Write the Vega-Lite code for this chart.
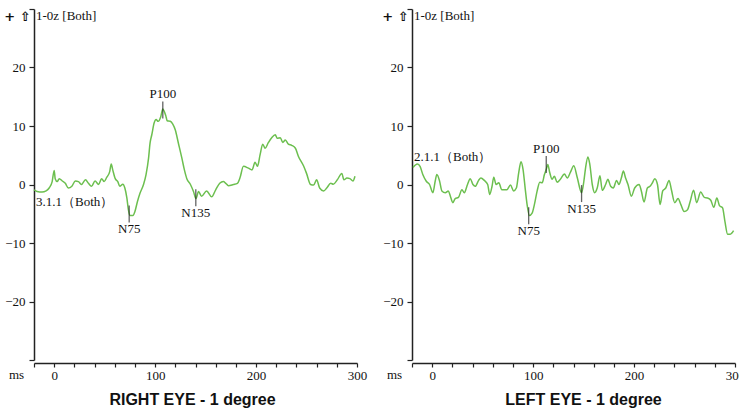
{
  "$schema": "https://vega.github.io/schema/vega-lite/v6.json",
  "background": "white",
  "padding": {"left": 3, "top": 8, "right": 0, "bottom": 0},
  "bounds": "flush",
  "spacing": 55,
  "datasets": {
    "wave": [
      {"eye":"R","ms":-20,"uv":-0.9},{"eye":"R","ms":-17,"uv":-1.2},{"eye":"R","ms":-12,"uv":-1.3},{"eye":"R","ms":-8,"uv":-1.1},{"eye":"R","ms":-5,"uv":-0.6},{"eye":"R","ms":-2,"uv":0.5},{"eye":"R","ms":0,"uv":2.4},{"eye":"R","ms":1,"uv":1.0},{"eye":"R","ms":3,"uv":0.5},{"eye":"R","ms":5,"uv":1.0},{"eye":"R","ms":8,"uv":0.6},{"eye":"R","ms":11,"uv":0.2},{"eye":"R","ms":14,"uv":-0.6},{"eye":"R","ms":17.5,"uv":-0.3},{"eye":"R","ms":21,"uv":0.6},{"eye":"R","ms":24,"uv":0.5},{"eye":"R","ms":27,"uv":0},{"eye":"R","ms":31,"uv":0.8},{"eye":"R","ms":34,"uv":0.2},{"eye":"R","ms":37,"uv":-0.3},{"eye":"R","ms":40.5,"uv":0.6},{"eye":"R","ms":44,"uv":0},{"eye":"R","ms":47,"uv":1.0},{"eye":"R","ms":49.5,"uv":0.5},{"eye":"R","ms":52,"uv":1.2},{"eye":"R","ms":55,"uv":2.2},{"eye":"R","ms":56.5,"uv":3.5},{"eye":"R","ms":58,"uv":2.5},{"eye":"R","ms":60.5,"uv":1.0},{"eye":"R","ms":63,"uv":0.5},{"eye":"R","ms":65,"uv":-0.3},{"eye":"R","ms":68,"uv":0.05},{"eye":"R","ms":70,"uv":-0.6},{"eye":"R","ms":72,"uv":-2.3},{"eye":"R","ms":73.5,"uv":-4.3},{"eye":"R","ms":75,"uv":-5.3},{"eye":"R","ms":78,"uv":-5.3},{"eye":"R","ms":80,"uv":-4.6},{"eye":"R","ms":82.5,"uv":-2.9},{"eye":"R","ms":85,"uv":-1.5},{"eye":"R","ms":88.5,"uv":0},{"eye":"R","ms":91,"uv":1.7},{"eye":"R","ms":93.5,"uv":4.5},{"eye":"R","ms":95,"uv":7.1},{"eye":"R","ms":96.7,"uv":8.5},{"eye":"R","ms":99,"uv":10.5},{"eye":"R","ms":101,"uv":11.1},{"eye":"R","ms":103,"uv":10.8},{"eye":"R","ms":105.6,"uv":11.6},{"eye":"R","ms":107.6,"uv":12.9},{"eye":"R","ms":109,"uv":12.5},{"eye":"R","ms":110.5,"uv":11.8},{"eye":"R","ms":112,"uv":10.9},{"eye":"R","ms":115,"uv":10.8},{"eye":"R","ms":117.5,"uv":10.3},{"eye":"R","ms":120,"uv":9.3},{"eye":"R","ms":123,"uv":7.1},{"eye":"R","ms":126.5,"uv":4.5},{"eye":"R","ms":129,"uv":2.5},{"eye":"R","ms":131.4,"uv":1.0},{"eye":"R","ms":135,"uv":0},{"eye":"R","ms":138,"uv":-1.2},{"eye":"R","ms":140.5,"uv":-2.4},{"eye":"R","ms":143,"uv":-1.2},{"eye":"R","ms":146,"uv":-2.0},{"eye":"R","ms":151,"uv":-1.1},{"eye":"R","ms":156,"uv":-2.1},{"eye":"R","ms":160,"uv":-0.9},{"eye":"R","ms":164,"uv":0.2},{"eye":"R","ms":167.6,"uv":0.5},{"eye":"R","ms":170,"uv":0.2},{"eye":"R","ms":172.6,"uv":-0.2},{"eye":"R","ms":177.5,"uv":0},{"eye":"R","ms":181.5,"uv":0.2},{"eye":"R","ms":184,"uv":1.1},{"eye":"R","ms":187.5,"uv":3.1},{"eye":"R","ms":192.4,"uv":2.8},{"eye":"R","ms":196,"uv":2.5},{"eye":"R","ms":199,"uv":3.8},{"eye":"R","ms":201.4,"uv":3.1},{"eye":"R","ms":204,"uv":5.1},{"eye":"R","ms":206.6,"uv":6.9},{"eye":"R","ms":209,"uv":6.2},{"eye":"R","ms":212,"uv":7.1},{"eye":"R","ms":215.5,"uv":8.0},{"eye":"R","ms":219,"uv":8.5},{"eye":"R","ms":221,"uv":7.9},{"eye":"R","ms":224,"uv":8.0},{"eye":"R","ms":226.4,"uv":7.2},{"eye":"R","ms":229,"uv":7.6},{"eye":"R","ms":232,"uv":6.9},{"eye":"R","ms":235.3,"uv":6.7},{"eye":"R","ms":239,"uv":6.2},{"eye":"R","ms":242,"uv":4.8},{"eye":"R","ms":247,"uv":3.2},{"eye":"R","ms":250,"uv":1.9},{"eye":"R","ms":254,"uv":0},{"eye":"R","ms":257,"uv":-0.1},{"eye":"R","ms":260,"uv":0.8},{"eye":"R","ms":263,"uv":-0.6},{"eye":"R","ms":267,"uv":-1.1},{"eye":"R","ms":270,"uv":-0.6},{"eye":"R","ms":274,"uv":0.2},{"eye":"R","ms":276.5,"uv":0.05},{"eye":"R","ms":280.5,"uv":0.8},{"eye":"R","ms":285,"uv":1.9},{"eye":"R","ms":287,"uv":0.8},{"eye":"R","ms":290,"uv":1.1},{"eye":"R","ms":293,"uv":1.0},{"eye":"R","ms":296,"uv":0.6},{"eye":"R","ms":298,"uv":1.4},
      {"eye":"L","ms":-19,"uv":2.9},{"eye":"L","ms":-14.6,"uv":3.5},{"eye":"L","ms":-12,"uv":3.1},{"eye":"L","ms":-9.3,"uv":1.7},{"eye":"L","ms":-6,"uv":0.6},{"eye":"L","ms":-2.6,"uv":0},{"eye":"L","ms":0.7,"uv":-1.4},{"eye":"L","ms":3,"uv":0.6},{"eye":"L","ms":4.6,"uv":1.7},{"eye":"L","ms":7.3,"uv":0.6},{"eye":"L","ms":9.6,"uv":-1.1},{"eye":"L","ms":13,"uv":-1.4},{"eye":"L","ms":16,"uv":-1.1},{"eye":"L","ms":18,"uv":-2.0},{"eye":"L","ms":20.5,"uv":-3.1},{"eye":"L","ms":22.8,"uv":-2.4},{"eye":"L","ms":26,"uv":-2.2},{"eye":"L","ms":29.5,"uv":-0.9},{"eye":"L","ms":31.8,"uv":-1.4},{"eye":"L","ms":35,"uv":0},{"eye":"L","ms":37.7,"uv":1.0},{"eye":"L","ms":40.4,"uv":0},{"eye":"L","ms":42.7,"uv":-0.3},{"eye":"L","ms":46,"uv":0.7},{"eye":"L","ms":48.3,"uv":1.1},{"eye":"L","ms":51.6,"uv":0.7},{"eye":"L","ms":55,"uv":0},{"eye":"L","ms":57,"uv":-1.7},{"eye":"L","ms":59.3,"uv":-0.3},{"eye":"L","ms":61,"uv":1.25},{"eye":"L","ms":63.3,"uv":0},{"eye":"L","ms":66,"uv":0.3},{"eye":"L","ms":69,"uv":-0.9},{"eye":"L","ms":74,"uv":-0.9},{"eye":"L","ms":77.5,"uv":-0.1},{"eye":"L","ms":80.7,"uv":-1.1},{"eye":"L","ms":83.4,"uv":-0.6},{"eye":"L","ms":85.7,"uv":2.0},{"eye":"L","ms":88,"uv":3.9},{"eye":"L","ms":90,"uv":2.6},{"eye":"L","ms":92.4,"uv":-1.1},{"eye":"L","ms":94,"uv":-3.4},{"eye":"L","ms":96.3,"uv":-5.3},{"eye":"L","ms":99,"uv":-4.9},{"eye":"L","ms":101.3,"uv":-3.4},{"eye":"L","ms":104,"uv":-1.1},{"eye":"L","ms":106.6,"uv":0.4},{"eye":"L","ms":109,"uv":0.3},{"eye":"L","ms":111.2,"uv":1.7},{"eye":"L","ms":113.2,"uv":2.7},{"eye":"L","ms":114.5,"uv":3.4},{"eye":"L","ms":116.5,"uv":2.0},{"eye":"L","ms":118.8,"uv":0.9},{"eye":"L","ms":121,"uv":1.4},{"eye":"L","ms":123.8,"uv":0.4},{"eye":"L","ms":127,"uv":0.9},{"eye":"L","ms":131,"uv":1.8},{"eye":"L","ms":133.8,"uv":1.1},{"eye":"L","ms":137,"uv":2.1},{"eye":"L","ms":140.3,"uv":3.2},{"eye":"L","ms":143.7,"uv":1.2},{"eye":"L","ms":148,"uv":-1.4},{"eye":"L","ms":150.3,"uv":0.6},{"eye":"L","ms":152,"uv":2.9},{"eye":"L","ms":154.3,"uv":4.7},{"eye":"L","ms":156.2,"uv":3.4},{"eye":"L","ms":158.6,"uv":0},{"eye":"L","ms":160.9,"uv":-1.4},{"eye":"L","ms":163.5,"uv":-0.6},{"eye":"L","ms":166.2,"uv":1.5},{"eye":"L","ms":168.5,"uv":-1.0},{"eye":"L","ms":171.8,"uv":0},{"eye":"L","ms":174,"uv":0.9},{"eye":"L","ms":176.8,"uv":-0.3},{"eye":"L","ms":179.4,"uv":-0.6},{"eye":"L","ms":182.7,"uv":0.7},{"eye":"L","ms":185,"uv":0},{"eye":"L","ms":187.4,"uv":1.1},{"eye":"L","ms":189.4,"uv":2.3},{"eye":"L","ms":191.6,"uv":1.1},{"eye":"L","ms":194,"uv":0},{"eye":"L","ms":197.3,"uv":-2.0},{"eye":"L","ms":200.6,"uv":-0.6},{"eye":"L","ms":205,"uv":0},{"eye":"L","ms":207.2,"uv":-1.1},{"eye":"L","ms":209.9,"uv":-3.0},{"eye":"L","ms":213.2,"uv":-0.6},{"eye":"L","ms":215.8,"uv":-0.3},{"eye":"L","ms":218.2,"uv":0.3},{"eye":"L","ms":220.5,"uv":1.0},{"eye":"L","ms":223.2,"uv":0},{"eye":"L","ms":225.8,"uv":-3.4},{"eye":"L","ms":228.4,"uv":-1.1},{"eye":"L","ms":231.4,"uv":-0.6},{"eye":"L","ms":234.7,"uv":0.7},{"eye":"L","ms":237,"uv":-0.9},{"eye":"L","ms":240.3,"uv":-3.1},{"eye":"L","ms":243.6,"uv":-2.4},{"eye":"L","ms":246.3,"uv":-3.4},{"eye":"L","ms":249.6,"uv":-4.6},{"eye":"L","ms":253,"uv":-4.3},{"eye":"L","ms":255.6,"uv":-2.9},{"eye":"L","ms":259,"uv":-1.0},{"eye":"L","ms":262,"uv":-3.1},{"eye":"L","ms":266,"uv":-1.3},{"eye":"L","ms":269.6,"uv":-2.2},{"eye":"L","ms":272.8,"uv":-2.3},{"eye":"L","ms":276,"uv":-2.7},{"eye":"L","ms":279,"uv":-3.9},{"eye":"L","ms":282,"uv":-2.3},{"eye":"L","ms":284.6,"uv":-3.6},{"eye":"L","ms":287.7,"uv":-4.0},{"eye":"L","ms":290,"uv":-6.3},{"eye":"L","ms":292.7,"uv":-8.5},{"eye":"L","ms":295.3,"uv":-8.5},{"eye":"L","ms":298.6,"uv":-7.9}
    ],
    "peaks": [
      {"eye":"R","label":"N75","kind":"N","ms":74.3,"uv":-5.05},
      {"eye":"R","label":"P100","kind":"P","ms":107.6,"uv":12.75},
      {"eye":"R","label":"N135","kind":"N","ms":140.3,"uv":-2.25},
      {"eye":"L","label":"N75","kind":"N","ms":95.6,"uv":-5.35},
      {"eye":"L","label":"P100","kind":"P","ms":113,"uv":3.4},
      {"eye":"L","label":"N135","kind":"N","ms":148,"uv":-1.55}
    ],
    "notes": [
      {"eye":"R","text":"1-0z  [Both]","ms":-18,"uv":28.8},
      {"eye":"R","text":"3.1.1（Both）","ms":-18,"uv":-3.05},
      {"eye":"L","text":"1-0z  [Both]","ms":-18,"uv":28.8},
      {"eye":"L","text":"2.1.1（Both）","ms":-18,"uv":4.7}
    ]
  },
  "hconcat": [
    {
      "width": 323,
      "height": 351,
      "title": {"text": "RIGHT EYE - 1 degree", "orient": "bottom", "dx": -3},
      "resolve": {"axis": {"x": "independent"}},
      "layer": [
        {
          "data": {"name": "wave"},
          "transform": [{"filter": "datum.eye == 'R'"}],
          "mark": {"type": "line", "color": "#6cbf4f", "strokeWidth": 1.5, "interpolate": "monotone"},
          "encoding": {
            "x": {"field": "ms", "type": "quantitative", "scale": {"domain": [-20, 300], "nice": false, "zero": false},
              "axis": {"orient": "bottom", "values": [-20,0,20,40,60,80,100,120,140,160,180,200,220,240,260,280,300], "labels": false, "offset": 3, "tickSize": 4, "title": "ms", "titleX": -18, "titleY": 11, "titleAlign": "center", "titleBaseline": "middle"}},
            "y": {"field": "uv", "type": "quantitative", "scale": {"domain": [-30, 30], "nice": false},
              "axis": {"values": [-30,-20,-10,0,10,20,30], "labelExpr": "abs(datum.value) == 30 ? '' : datum.label", "tickSize": 5, "labelPadding": 4, "title": "+ ⇧", "titleAngle": 0, "titleX": -17, "titleY": 7, "titleAlign": "center", "titleBaseline": "middle", "titleFont": "DejaVu Sans", "titleFontWeight": "bold", "titleFontSize": 13}}
          }
        },
        {
          "data": {"name": "peaks"},
          "transform": [{"filter": "datum.eye == 'R'"}],
          "mark": {"type": "tick", "orient": "vertical", "size": 17, "thickness": 1.3, "color": "#222"},
          "encoding": {
            "x": {"field": "ms", "type": "quantitative", "axis": {"orient": "bottom", "values": [0, 100, 200, 300], "ticks": false, "domain": false, "labelFlush": false, "labelOverlap": false, "offset": 3, "labelPadding": 6, "title": null}},
            "y": {"field": "uv", "type": "quantitative"}
          }
        },
        {
          "data": {"name": "peaks"},
          "transform": [{"filter": "datum.eye == 'R' && datum.kind == 'P'"}],
          "mark": {"type": "text", "baseline": "bottom", "dy": -9, "font": "Liberation Serif", "fontSize": 13, "color": "#111"},
          "encoding": {"x": {"field": "ms", "type": "quantitative", "axis": null}, "y": {"field": "uv", "type": "quantitative"}, "text": {"field": "label"}}
        },
        {
          "data": {"name": "peaks"},
          "transform": [{"filter": "datum.eye == 'R' && datum.kind == 'N'"}],
          "mark": {"type": "text", "baseline": "top", "dy": 9, "font": "Liberation Serif", "fontSize": 13, "color": "#111"},
          "encoding": {"x": {"field": "ms", "type": "quantitative", "axis": null}, "y": {"field": "uv", "type": "quantitative"}, "text": {"field": "label"}}
        },
        {
          "data": {"name": "notes"},
          "transform": [{"filter": "datum.eye == 'R'"}],
          "mark": {"type": "text", "align": "left", "baseline": "middle", "font": "Liberation Serif", "fontSize": 13, "color": "#111"},
          "encoding": {"x": {"field": "ms", "type": "quantitative", "axis": null}, "y": {"field": "uv", "type": "quantitative"}, "text": {"field": "text"}}
        }
      ]
    },
    {
      "width": 323,
      "height": 351,
      "title": {"text": "LEFT EYE - 1 degree", "orient": "bottom", "dx": 10},
      "resolve": {"axis": {"x": "independent"}},
      "layer": [
        {
          "data": {"name": "wave"},
          "transform": [{"filter": "datum.eye == 'L'"}],
          "mark": {"type": "line", "color": "#6cbf4f", "strokeWidth": 1.5, "interpolate": "monotone"},
          "encoding": {
            "x": {"field": "ms", "type": "quantitative", "scale": {"domain": [-20, 300], "nice": false, "zero": false},
              "axis": {"orient": "bottom", "values": [-20,0,20,40,60,80,100,120,140,160,180,200,220,240,260,280,300], "labels": false, "offset": 3, "tickSize": 4, "title": "ms", "titleX": -18, "titleY": 11, "titleAlign": "center", "titleBaseline": "middle"}},
            "y": {"field": "uv", "type": "quantitative", "scale": {"domain": [-30, 30], "nice": false},
              "axis": {"values": [-30,-20,-10,0,10,20,30], "labelExpr": "abs(datum.value) == 30 ? '' : datum.label", "tickSize": 5, "labelPadding": 4, "title": "+ ⇧", "titleAngle": 0, "titleX": -17, "titleY": 7, "titleAlign": "center", "titleBaseline": "middle", "titleFont": "DejaVu Sans", "titleFontWeight": "bold", "titleFontSize": 13}}
          }
        },
        {
          "data": {"name": "peaks"},
          "transform": [{"filter": "datum.eye == 'L'"}],
          "mark": {"type": "tick", "orient": "vertical", "size": 17, "thickness": 1.3, "color": "#222"},
          "encoding": {
            "x": {"field": "ms", "type": "quantitative", "axis": {"orient": "bottom", "values": [0, 100, 200, 300], "ticks": false, "domain": false, "labelFlush": false, "labelOverlap": false, "offset": 3, "labelPadding": 6, "title": null}},
            "y": {"field": "uv", "type": "quantitative"}
          }
        },
        {
          "data": {"name": "peaks"},
          "transform": [{"filter": "datum.eye == 'L' && datum.kind == 'P'"}],
          "mark": {"type": "text", "baseline": "bottom", "dy": -9, "font": "Liberation Serif", "fontSize": 13, "color": "#111"},
          "encoding": {"x": {"field": "ms", "type": "quantitative", "axis": null}, "y": {"field": "uv", "type": "quantitative"}, "text": {"field": "label"}}
        },
        {
          "data": {"name": "peaks"},
          "transform": [{"filter": "datum.eye == 'L' && datum.kind == 'N'"}],
          "mark": {"type": "text", "baseline": "top", "dy": 9, "font": "Liberation Serif", "fontSize": 13, "color": "#111"},
          "encoding": {"x": {"field": "ms", "type": "quantitative", "axis": null}, "y": {"field": "uv", "type": "quantitative"}, "text": {"field": "label"}}
        },
        {
          "data": {"name": "notes"},
          "transform": [{"filter": "datum.eye == 'L'"}],
          "mark": {"type": "text", "align": "left", "baseline": "middle", "font": "Liberation Serif", "fontSize": 13, "color": "#111"},
          "encoding": {"x": {"field": "ms", "type": "quantitative", "axis": null}, "y": {"field": "uv", "type": "quantitative"}, "text": {"field": "text"}}
        }
      ]
    }
  ],
  "config": {
    "view": {"stroke": null},
    "axis": {"grid": false, "domainColor": "#222", "domainWidth": 1.5, "tickColor": "#222", "tickWidth": 1.2, "labelFont": "Liberation Serif", "labelFontSize": 13, "labelColor": "#111", "titleFont": "Liberation Serif", "titleFontSize": 13, "titleFontWeight": "normal", "titleColor": "#111"},
    "title": {"font": "Liberation Sans", "fontWeight": "bold", "fontSize": 16, "color": "#111", "offset": 10}
  }
}
